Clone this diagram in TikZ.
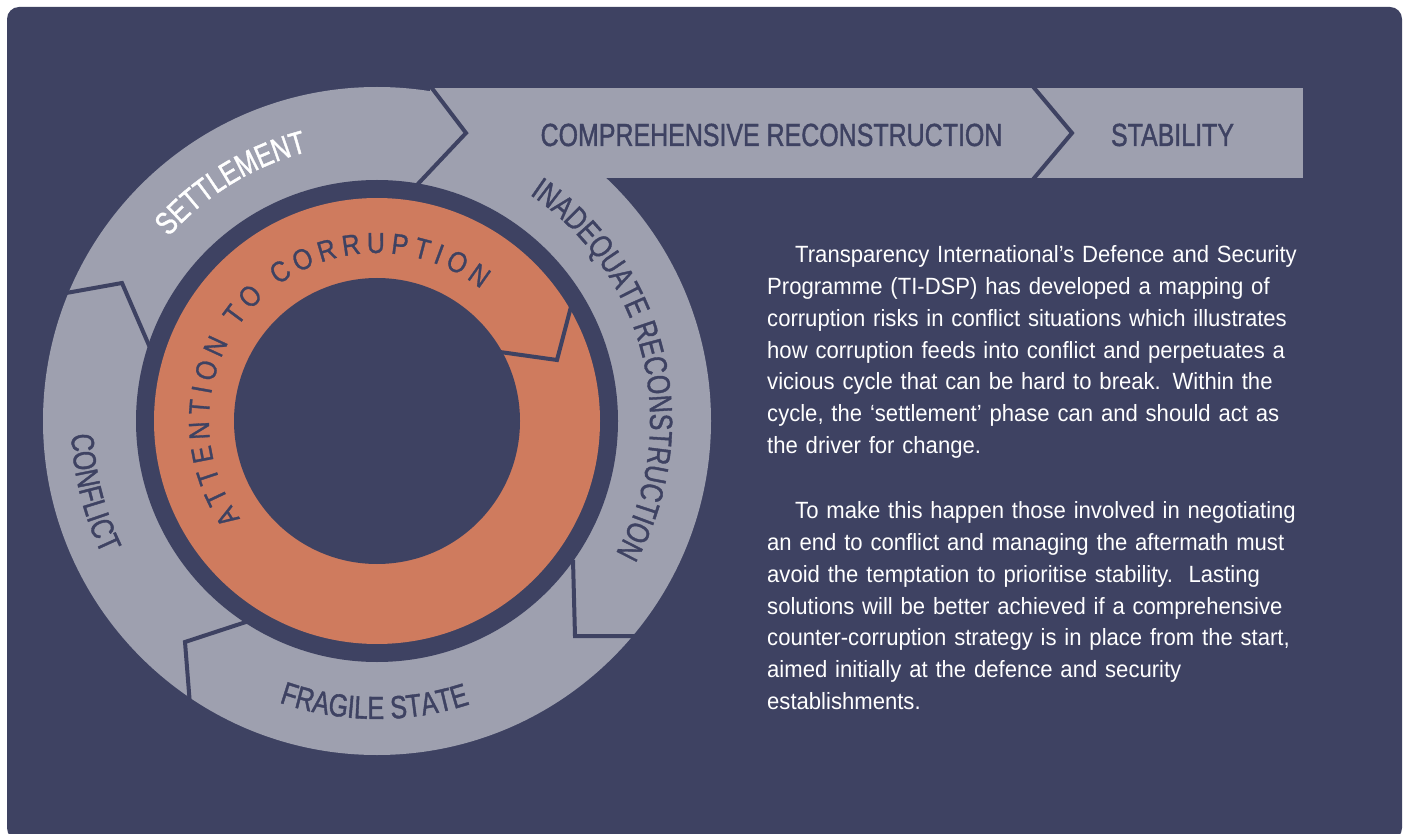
\documentclass[tikz,border=0pt]{standalone}
\usepackage{fontspec}
\usetikzlibrary{decorations.text}
\newfontfamily\bodyfont[FakeStretch=0.94]{Liberation Sans}
\newfontfamily\labelfont[FakeStretch=0.78,FakeBold=1.2]{Liberation Sans}
\newfontfamily\ringfont[FakeStretch=0.86,FakeBold=1]{Liberation Sans}
\definecolor{bgdark}{HTML}{3E4262}
\definecolor{ringgray}{HTML}{9EA0AF}
\definecolor{corange}{HTML}{CF7B5E}
\newcommand{\lblfont}{\labelfont\fontsize{32}{32}\selectfont}
\newcommand{\attfont}{\ringfont\fontsize{29}{29}\selectfont}

\begin{document}
\begin{tikzpicture}[x=1pt,y=-1pt,
		sep/.style={draw=bgdark,line width=4pt,line join=miter},
		ringlabel/.style={decorate,decoration={text along path,text align=center,text color=bgdark,text={|\lblfont|#1}}},
		bannerlabel/.style={text=bgdark,font=\lblfont,inner sep=0pt,anchor=base},
		para/.style={text=white,font=\bodyfont\fontsize{23.5}{31.8}\selectfont,text width=600pt,align=left,inner sep=0pt,anchor=base west}]
			\clip (0,0) rectangle (1409,834);
			\fill[white] (0,0) rectangle (1409,834);
			\fill[bgdark,rounded corners=12pt] (7,7) rectangle (1402,840);
			\coordinate (c) at (377,421);
			% rings
			\fill[ringgray] (c) circle (334);
			\fill[ringgray] (430,88) rectangle (1303,178);
			\fill[bgdark] (c) circle (241);
			\fill[corange] (c) circle (223);
			\fill[bgdark] (c) circle (143);
			% arrow seams
			\draw[sep] (55,295) -- (122,283) -- (151,350);
			\draw[sep] (428,83) -- (466,133) -- (416,186);
			\draw[sep] (1030,83) -- (1072,133) -- (1030,183);
			\draw[sep] (573,560) -- (575,636) -- (640,636);
			\draw[sep] (249,621) -- (185,642) -- (190,705);
			\draw[sep] (500,352) -- (557,360) -- (573,299);
			% labels
			\node[bannerlabel] (comp) at (771.5,146) {COMPREHENSIVE RECONSTRUCTION};
			\node[bannerlabel] (stab) at (1172.5,146) {STABILITY};
			\begin{scope}[shift={(c)}]
				\path[ringlabel=SETTLEMENT,decoration={text color=white}] (-171.5:278) arc[start angle=-171.5,end angle=-71.5,radius=278];
				\path[ringlabel=INADEQUATE RECONSTRUCTION] (-73.5:273) arc[start angle=-73.5,end angle=46.5,radius=273];
				\path[ringlabel=CONFLICT] (-154.2:306) arc[start angle=-154.2,end angle=-234.2,radius=306];
				\path[ringlabel=FRAGILE STATE] (-229.5:298) arc[start angle=-229.5,end angle=-309.5,radius=298];
				\path[decorate,decoration={text along path,text align=fit to path,text color=bgdark,text={|\attfont|ATTENTION TO CORRUPTION}}] (-215.5:168) arc[start angle=-215.5,end angle=-51.8,radius=168];
			\end{scope}
			\node[para] (intro) at (767,262.7) {\hspace*{28pt}Transparency International’s Defence and Security\\
				Programme (TI-DSP) has developed a mapping of\\
				corruption risks in conflict situations which illustrates\\
				how corruption feeds into conflict and perpetuates a\\
				vicious cycle that can be hard to break. Within the\\
				cycle, the ‘settlement’ phase can and should act as\\
				the driver for change.};
			\node[para] (appeal) at (767,518.7) {\hspace*{28pt}To make this happen those involved in negotiating\\
				an end to conflict and managing the aftermath must\\
				avoid the temptation to prioritise stability.\ \ Lasting\\
				solutions will be better achieved if a comprehensive\\
				counter-corruption strategy is in place from the start,\\
				aimed initially at the defence and security\\
				establishments.};
		\end{tikzpicture}
\end{document}
